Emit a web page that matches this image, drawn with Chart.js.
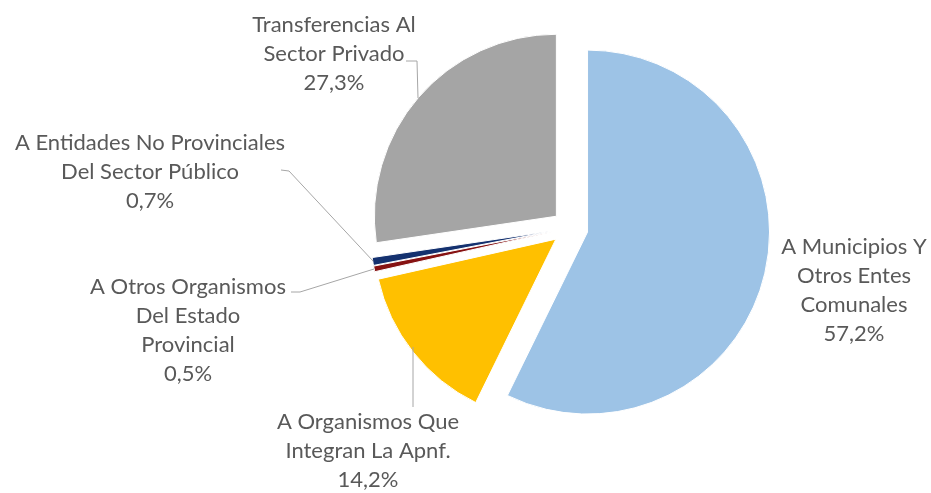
<!DOCTYPE html>
<html>
<head>
<meta charset="utf-8">
<script src="https://cdn.jsdelivr.net/npm/chart.js@4"></script>
<style>
  html, body { margin: 0; padding: 0; background: #ffffff; }
  #wrap { width: 931px; height: 493px; position: relative; }
</style>
</head>
<body>
<div id="wrap"><canvas id="chart"></canvas></div>
<script>
// data
const categories = [
  ['A Municipios Y', 'Otros Entes', 'Comunales'],
  ['A Organismos Que', 'Integran La Apnf.'],
  ['A Otros Organismos', 'Del Estado', 'Provincial'],
  ['A Entidades No Provinciales', 'Del Sector Público'],
  ['Transferencias Al', 'Sector Privado']
];
const shares = [57.2, 14.2, 0.5, 0.7, 27.3];
const percentLabels = ['57,2%', '14,2%', '0,5%', '0,7%', '27,3%'];
const sliceColors = ['#9DC3E6', '#FFC000', '#861212', '#14316F', '#A5A5A5'];

const explode = 18; // px every slice is pulled out

// where each label block sits (centre x, first line middle y) and its leader line
const labelLayout = [
  { x: 854, y: 247, line: null },
  { x: 368, y: 422, line: [[413, 407], [413, 347]] },
  { x: 188, y: 287, line: [[291, 292], [300, 292], [374, 269]] },
  { x: 150, y: 143, line: [[281, 170], [289, 171], [373, 261]] },
  { x: 334, y: 25, line: [[406, 61], [417, 61], [418, 98]] }
];
const lineHeight = 29;

// Chart.js "offset" also grows the radius and trims thin slices, so pull the arcs out by hand
const explodeArcs = {
  id: 'explodeArcs',
  afterDatasetUpdate(chart, args) {
    const area = chart.chartArea;
    const cx = (area.left + area.right) / 2;
    const cy = (area.top + area.bottom) / 2;
    chart.getDatasetMeta(args.index).data.forEach(arc => {
      const mid = (arc.startAngle + arc.endAngle) / 2;
      arc.x = cx + Math.cos(mid) * explode;
      arc.y = cy + Math.sin(mid) * explode;
    });
  }
};

const outsideLabels = {
  id: 'outsideLabels',
  afterDatasetsDraw(chart) {
    const ctx = chart.ctx;
    ctx.save();
    ctx.strokeStyle = '#A6A6A6';
    ctx.lineWidth = 1;
    labelLayout.forEach(l => {
      if (!l.line) return;
      ctx.beginPath();
      l.line.forEach((p, i) => i ? ctx.lineTo(p[0], p[1]) : ctx.moveTo(p[0], p[1]));
      ctx.stroke();
    });
    ctx.fillStyle = '#595959';
    ctx.font = '22px Lato';
    ctx.textAlign = 'center';
    ctx.textBaseline = 'middle';
    categories.forEach((lines, i) => {
      const l = labelLayout[i];
      lines.concat([percentLabels[i]]).forEach((t, k) => ctx.fillText(t, l.x, l.y + k * lineHeight));
    });
    ctx.restore();
  }
};

new Chart(document.getElementById('chart'), {
  type: 'pie',
  data: {
    labels: categories.map(c => c.join(' ')),
    datasets: [{
      data: shares,
      backgroundColor: sliceColors,
      borderColor: '#ffffff',
      borderWidth: 1,
      radius: 182,
      clip: false
    }]
  },
  options: {
    responsive: true,
    maintainAspectRatio: false,
    animation: false,
    layout: { padding: { left: 209, right: 0, top: 0, bottom: 37 } },
    plugins: {
      legend: { display: false },
      tooltip: { enabled: false }
    }
  },
  plugins: [explodeArcs, outsideLabels]
});
</script>
</body>
</html>
